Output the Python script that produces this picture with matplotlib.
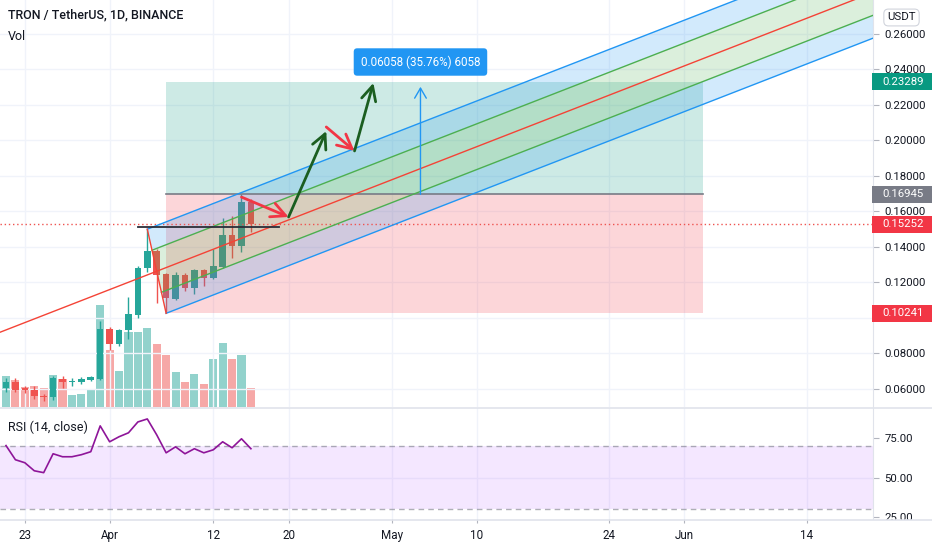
import matplotlib
matplotlib.use('Agg')
import matplotlib.pyplot as plt
from matplotlib.patches import Rectangle, Polygon
from matplotlib.lines import Line2D
import numpy as np
import pandas as pd

plt.rcParams['font.family'] = ['Roboto', 'DejaVu Sans']

# ---------------- data ----------------
dates = pd.date_range('2021-03-21', '2021-04-16', freq='D')
opens = [0.0604, 0.0636, 0.0602, 0.0594, 0.0560, 0.0551, 0.0655, 0.0636, 0.0636, 0.0651,
         0.0655, 0.0937, 0.0849, 0.0929, 0.1014, 0.1278, 0.1376, 0.1244, 0.1103, 0.1240,
         0.1165, 0.1267, 0.1221, 0.1285, 0.1466, 0.1404, 0.1653]
highs = [0.0657, 0.0662, 0.0613, 0.0617, 0.0572, 0.0673, 0.0673, 0.0657, 0.0668, 0.0673,
         0.0980, 0.0949, 0.0937, 0.1118, 0.1291, 0.1498, 0.1385, 0.1254, 0.1259, 0.1254,
         0.1276, 0.1276, 0.1385, 0.1559, 0.1573, 0.16945, 0.1668]
lows = [0.0583, 0.0583, 0.0576, 0.0544, 0.0528, 0.0538, 0.0606, 0.0617, 0.0628, 0.0641,
        0.0647, 0.0816, 0.0839, 0.0877, 0.0999, 0.1259, 0.1084, 0.10241, 0.1097, 0.1150,
        0.1131, 0.1178, 0.1216, 0.1282, 0.1334, 0.1367, 0.1480]
closes = [0.0636, 0.0594, 0.0590, 0.0557, 0.0551, 0.0660, 0.0636, 0.0641, 0.0655, 0.0666,
          0.0933, 0.0853, 0.0929, 0.1018, 0.1282, 0.1376, 0.1240, 0.1108, 0.1240, 0.1165,
          0.1267, 0.1225, 0.1291, 0.1466, 0.1404, 0.1653, 0.15252]
volumes = [31, 27.5, 20, 21.5, 19, 32, 28, 12.5, 13.5, 17, 102, 57.5, 36.5, 75, 75, 79,
           63, 52, 35.5, 25, 33.5, 23.5, 48.5, 64, 48.5, 52, 19]
rsi = [70.4, 61.4, 59.5, 54.4, 53.2, 65.2, 63.3, 63.3, 64.6, 66.5, 82.9, 72.8, 76.0, 78.5,
       85.4, 87.3, 77.2, 65.8, 69.6, 65.2, 68.4, 65.8, 67.7, 72.8, 69.0, 74.7, 68.4]

tick_dates = ['2021-03-23', '2021-04-01', '2021-04-12', '2021-04-20', '2021-05-01',
              '2021-05-10', '2021-05-24', '2021-06-01', '2021-06-14']
tick_labels = ['23', 'Apr', '12', '20', 'May', '10', '24', 'Jun', '14']
price_ticks = [0.06, 0.08, 0.10, 0.12, 0.14, 0.16, 0.18, 0.20, 0.22, 0.24, 0.26]
hidden_price_ticks = [0.10]   # covered by the stop label on the scale
rsi_ticks = [25, 50, 75]

# long position tool
pos_dates = ['2021-04-07', '2021-06-03']
entry_price, target_price, stop_price = 0.16945, 0.23289, 0.10241
last_price = 0.15252

# price range measure
measure_date = '2021-05-04'
measure_from, measure_to = 0.16945, 0.23003
measure_label = '0.06058 (35.76%) 6058'
measure_label_price = 0.2440

# pitchfork pivots
pf_dates = ['2021-03-11', '2021-04-05', '2021-04-07']
pf_prices = [0.0724, 0.1498, 0.10241]

# horizontal line
hl_dates = ['2021-04-04', '2021-04-19']
hl_price = 0.1511

# hand-drawn arrows: (start date, start price, end date, end price, kind)
arrows = [('2021-04-15', 0.1679, '2021-04-20', 0.1567, 'red'),
          ('2021-04-20', 0.1567, '2021-04-24', 0.2051, 'green'),
          ('2021-04-24', 0.2074, '2021-04-27', 0.1939, 'red'),
          ('2021-04-27', 0.1939, '2021-04-29', 0.2322, 'green')]

# ---------------- style ----------------
UP, DOWN = '#26a69a', '#ef5350'
GRID = '#f0f3fa'
SEP = '#e0e3eb'
TXT = '#131722'
BLUE, GREEN, RED = '#2196f3', '#4caf50', '#f44336'

base = dates[0]
def dn(s):
    return (pd.Timestamp(s) - base).days

x = np.array([(d - base).days for d in dates])

W, H = 932, 550
fig = plt.figure(figsize=(W / 100, H / 100), dpi=100)
fig.patch.set_facecolor('white')

XL = (-0.637, 92.04)
main_rect = [0, 1 - 407 / H, 873 / W, 407 / H]
ax_v = fig.add_axes(main_rect)
ax = fig.add_axes(main_rect)
ax.patch.set_visible(False)
ax_r = fig.add_axes([0, 1 - 519 / H, 873 / W, 111 / H])

for a in (ax, ax_v, ax_r):
    a.set_xlim(*XL)
ax.set_ylim(0.04963, 0.27893)
ax_r.set_ylim(23.78, 94.25)

# volume
ax_v.set_ylim(0, max(volumes) / 0.2506)
vcol = [UP if c >= o else DOWN for o, c in zip(opens, closes)]
ax_v.bar(x, volumes, width=0.86, color=vcol, alpha=0.5, linewidth=0)
ax_v.axis('off')

# grid
tick_x = [dn(t) for t in tick_dates]
for a in (ax, ax_r):
    for t in tick_x:
        a.axvline(t, color=GRID, lw=1, zorder=0)
for p in price_ticks:
    ax.axhline(p, color=GRID, lw=1, zorder=0)
ax_r.axhline(50, color=GRID, lw=1, zorder=0)

# candles
o = np.array(opens); c = np.array(closes); h = np.array(highs); l = np.array(lows)
col = [UP if ci >= oi else DOWN for oi, ci in zip(o, c)]
ax.vlines(x, l, h, colors=col, lw=1, zorder=2)
bottoms = np.minimum(o, c)
heights = np.maximum(np.abs(c - o), 0.0004)
ax.bar(x, heights, bottom=bottoms, width=0.7, color=col, linewidth=0, zorder=2.1)

# long position tool
px0, px1 = dn(pos_dates[0]), dn(pos_dates[1])
ax.add_patch(Rectangle((px0, entry_price), px1 - px0, target_price - entry_price,
                       facecolor='#089981', alpha=0.2, lw=0, zorder=3))
ax.add_patch(Rectangle((px0, stop_price), px1 - px0, entry_price - stop_price,
                       facecolor='#f23645', alpha=0.2, lw=0, zorder=3))
ax.plot([px0, px1], [entry_price, entry_price], color='#787b86', lw=1.2, zorder=4)

# last price dotted line
ax.axhline(last_price, color=DOWN, lw=1, ls=(0, (1, 2)), zorder=4)

# pitchfork
P1 = np.array([dn(pf_dates[0]), pf_prices[0]])
P2 = np.array([dn(pf_dates[1]), pf_prices[1]])
P3 = np.array([dn(pf_dates[2]), pf_prices[2]])
M = (P2 + P3) / 2
slope = (M[1] - P1[1]) / (M[0] - P1[0])
XE = 110.0
def start(f):
    return M + f * (P2 - M)
def end(f):
    s = start(f)
    return np.array([XE, s[1] + slope * (XE - s[0])])
bands = [(1, 0.5, BLUE), (0.5, 0, GREEN), (0, -0.5, GREEN), (-0.5, -1, BLUE)]
for fa, fb, colr in bands:
    poly = [start(fa), end(fa), end(fb), start(fb)]
    ax.add_patch(Polygon(poly, closed=True, facecolor=colr, alpha=0.2, lw=0, zorder=3))
for f, colr in [(1, BLUE), (0.5, GREEN), (-0.5, GREEN), (-1, BLUE)]:
    s, e = start(f), end(f)
    ax.plot([s[0], e[0]], [s[1], e[1]], color=colr, lw=1, zorder=4)
e0 = end(0)
ax.plot([P1[0], e0[0]], [P1[1], e0[1]], color=RED, lw=1, zorder=4)
ax.plot([P2[0], P3[0]], [P2[1], P3[1]], color=RED, lw=1, zorder=4)

# horizontal dark line
ax.plot([dn(hl_dates[0]), dn(hl_dates[1])], [hl_price, hl_price], color='#2a2e39', lw=1.3, zorder=4)

# arrows
acol = {'red': '#f23645', 'green': '#1b5e20'}
for d0, p0, d1, p1, k in arrows:
    ax.annotate('', xy=(dn(d1), p1), xytext=(dn(d0), p0),
                arrowprops=dict(arrowstyle='->,head_length=0.8,head_width=0.4',
                                color=acol[k], lw=2, shrinkA=0, shrinkB=0,
                                mutation_scale=13), zorder=5)

# measure
md = dn(measure_date)
ax.annotate('', xy=(md, measure_to), xytext=(md, measure_from),
            arrowprops=dict(arrowstyle='->,head_length=0.6,head_width=0.35',
                            color=BLUE, lw=1, shrinkA=0, shrinkB=0, mutation_scale=12), zorder=5)
ax.text(md, measure_label_price, measure_label, ha='center', va='center', color='white',
        fontsize=8.4, zorder=6,
        bbox=dict(boxstyle='round,pad=0.6,rounding_size=0.3', fc='#2196f3', ec='none'))

# axes styling main
ax.yaxis.tick_right()
ax.set_yticks(price_ticks)
ax.set_yticklabels(['' if p in hidden_price_ticks else f'{p:.5f}' for p in price_ticks])
ax.tick_params(axis='y', length=4, color='#b2b5be', labelsize=8.2, labelcolor=TXT, pad=4)
ax.set_xticks([])
for sname, sp in ax.spines.items():
    sp.set_visible(sname == 'right')
ax.spines['right'].set_color(SEP)

# RSI
ax_r.fill_between(XL, 30, 70, color='#9915ff', alpha=0.1, lw=0, zorder=0.5)
ax_r.axhline(70, color='#787b86', alpha=0.6, lw=1, ls=(0, (4, 3)), zorder=1)
ax_r.axhline(30, color='#787b86', alpha=0.6, lw=1, ls=(0, (4, 3)), zorder=1)
ax_r.plot(x, rsi, color='#8e1599', lw=1.2, zorder=3)
ax_r.yaxis.tick_right()
ax_r.set_yticks(rsi_ticks)
ax_r.set_yticklabels([f'{v:.2f}' for v in rsi_ticks])
ax_r.tick_params(axis='y', length=4, color='#b2b5be', labelsize=8.2, labelcolor=TXT, pad=4)
ax_r.set_xticks(tick_x)
ax_r.set_xticklabels(tick_labels)
ax_r.tick_params(axis='x', length=3, color='#b2b5be', labelsize=8.4, labelcolor=TXT, pad=4)
for sname, sp in ax_r.spines.items():
    sp.set_visible(sname == 'right')
ax_r.spines['right'].set_color(SEP)

# price labels on scale
def scale_label(price, colr):
    yd = ax.transData.transform((0, price))[1]
    yf = fig.transFigure.inverted().transform((0, yd))[1]
    fig.add_artist(Rectangle((872 / W, yf - 8.5 / H), 60 / W, 17 / H,
                             transform=fig.transFigure, facecolor=colr, lw=0, zorder=6))
    fig.text(882 / W, yf, f'{price:.5f}', color='white', fontsize=8.2,
             ha='left', va='center', zorder=7)

scale_label(target_price, '#089981')
scale_label(entry_price, '#787b86')
scale_label(last_price, '#f23645')
scale_label(stop_price, '#f23645')

# cover below RSI pane on scale and separators
fig.add_artist(Rectangle((873 / W, 0), 59 / W, 1 - 519.5 / H, transform=fig.transFigure,
                         facecolor='white', lw=0, zorder=5))
fig.add_artist(Line2D([0, 1], [1 - 407.5 / H] * 2, transform=fig.transFigure, color=SEP, lw=1.2, zorder=6))
fig.add_artist(Line2D([0, 1], [1 - 519.5 / H] * 2, transform=fig.transFigure, color=SEP, lw=1.2, zorder=6))

# texts
fig.text(8 / W, 1 - 15 / H, 'TRON / TetherUS, 1D, BINANCE', fontsize=9.0, color=TXT,
         weight='medium', ha='left', va='center')
fig.text(8 / W, 1 - 37 / H, 'Vol', fontsize=9.0, color=TXT, ha='left', va='center')
fig.text(8 / W, 1 - 427 / H, 'RSI (14, close)', fontsize=9.0, color=TXT, ha='left', va='center')
fig.text(901.5 / W, 1 - 17.5 / H, 'USDT', fontsize=8.2, color=TXT, ha='center', va='center',
         bbox=dict(boxstyle='round,pad=0.3,rounding_size=0.4', fc='white', ec='#d1d4dc', lw=0.8))

fig.savefig('out.png', dpi=100, facecolor='white')
